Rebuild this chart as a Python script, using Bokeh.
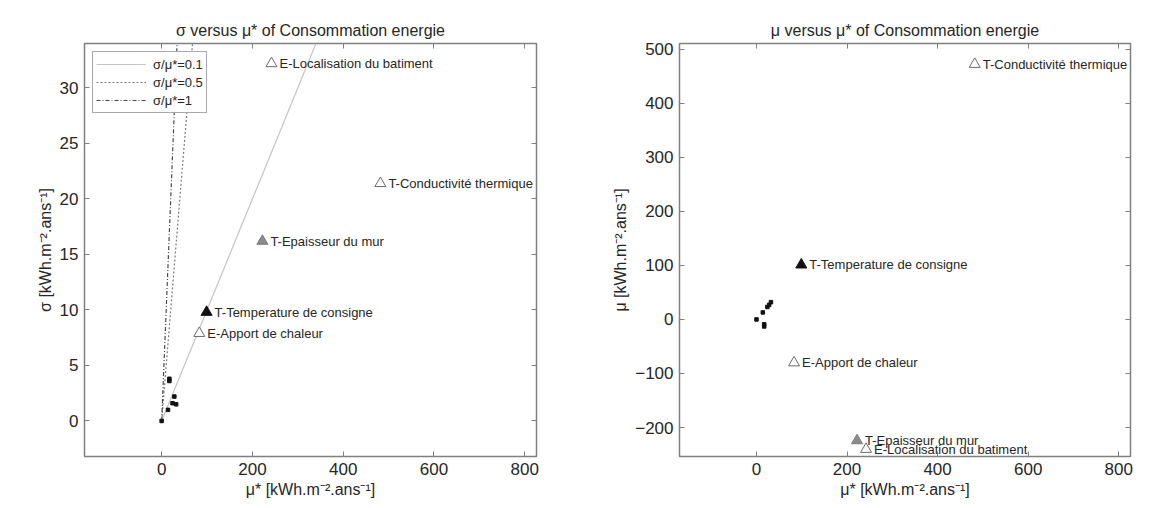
from bokeh.plotting import figure
from bokeh.models import (Range1d, LinearAxis, FixedTicker, Legend, LegendItem,
                          ColumnDataSource, CustomJSTickFormatter)
from bokeh.layouts import row
from bokeh.embed import file_html
from bokeh.resources import INLINE
from bokeh.core.properties import value

# ---------------- data ----------------
main_names = ["E-Localisation du batiment", "T-Conductivité thermique",
              "T-Epaisseur du mur", "T-Temperature de consigne", "E-Apport de chaleur"]
main_mustar = [242, 482, 222, 99, 83]
main_sigma = [32.2, 21.4, 16.2, 9.8, 7.9]
main_mu = [-240, 472, -224, 101, -80]

small_mustar = [0, 14, 17, 17, 24, 28, 32]
small_sigma = [0.0, 1.0, 3.8, 3.6, 1.6, 2.2, 1.5]
small_mu = [0, 13, -9, -13, 23, 27, 32]

ratios = [0.1, 0.5, 1]
ratio_labels = ["σ/μ*=0.1", "σ/μ*=0.5", "σ/μ*=1"]

x_ticks = [0, 200, 400, 600, 800]
sigma_ticks = [0, 5, 10, 15, 20, 25, 30]
mu_ticks = [-200, -100, 0, 100, 200, 300, 400, 500]

titles = ["σ versus μ* of Consommation energie", "μ versus μ* of Consommation energie"]
x_label = "μ* [kWh.m⁻².ans⁻¹]"
y_labels = ["σ [kWh.m⁻².ans⁻¹]", "μ [kWh.m⁻².ans⁻¹]"]

# ---------------- styles ----------------
FONT = "Liberation Sans"
FRAME = "#808080"
TXT = "#262626"
fill_map = {"T-Temperature de consigne": "#111111", "T-Epaisseur du mur": "#8c8c8c"}
edge_map = {"T-Temperature de consigne": "#111111", "T-Epaisseur du mur": "#7a7a7a"}
fills = [fill_map.get(n, "white") for n in main_names]
edges = [edge_map.get(n, "#6a6a6a") for n in main_names]
ratio_colors = ["#c4c4c4", "#7a7a7a", "#4a4a4a"]
ratio_dash = ["solid", "2 2", "4 2 1 2"]


def make_fig(title, ylab, yr, yticks, width, left, right):
    p = figure(width=width, height=500, output_backend="svg", toolbar_location=None,
               x_range=Range1d(-170, 826), y_range=yr,
               min_border_left=left, min_border_right=right,
               min_border_top=43, min_border_bottom=44)
    p.title.text = title
    p.title.align = "center"
    p.title.text_font = FONT
    p.title.text_font_size = "16px"
    p.title.text_font_style = "normal"
    p.title.text_color = TXT
    p.title.standoff = 10
    p.grid.visible = False
    p.outline_line_color = FRAME
    p.outline_line_width = 1.5
    p.background_fill_color = "white"
    p.border_fill_color = "white"

    for ax, ticks in ((p.xaxis[0], x_ticks), (p.yaxis[0], yticks)):
        ax.ticker = FixedTicker(ticks=ticks)
        ax.major_tick_in = 5
        ax.major_tick_out = 0
        ax.minor_tick_line_color = None
        ax.axis_line_color = FRAME
        ax.major_tick_line_color = FRAME
        ax.major_label_text_font = FONT
        ax.major_label_text_font_size = "17px"
        ax.major_label_text_color = TXT
        ax.axis_label_text_font = FONT
        ax.axis_label_text_font_size = "16px"
        ax.axis_label_text_font_style = "normal"
        ax.axis_label_text_color = TXT
        ax.major_label_standoff = 6
        ax.axis_label_standoff = 3
    p.xaxis[0].axis_label = x_label
    p.yaxis[0].axis_label = ylab

    blank = CustomJSTickFormatter(code="return ''")
    for side, ticks in (("above", x_ticks), ("right", yticks)):
        ax = LinearAxis(ticker=FixedTicker(ticks=ticks), formatter=blank,
                        major_tick_in=5, major_tick_out=0, minor_tick_line_color=None,
                        axis_line_color=FRAME, major_tick_line_color=FRAME,
                        major_label_standoff=0)
        p.add_layout(ax, side)
    return p


# ---------------- left: sigma vs mu* ----------------
p1 = make_fig(titles[0], y_labels[0], Range1d(-3.2, 34.0), sigma_ticks, 576, 84, 40)
xe = p1.x_range.end
items = []
for r, lab, c, d in zip(ratios, ratio_labels, ratio_colors, ratio_dash):
    rl = p1.line([0, xe], [0, r * xe], line_color=c, line_dash=d, line_width=1.2)
    items.append(LegendItem(label=lab, renderers=[rl]))

src1 = ColumnDataSource(dict(x=main_mustar, y=main_sigma, name=main_names,
                             fill=fills, edge=edges))
p1.scatter("x", "y", source=src1, marker="triangle", size=11,
           fill_color="fill", line_color="edge", line_width=1)
p1.text("x", "y", text="name", source=src1, x_offset=8, text_baseline="middle",
        text_font=value(FONT), text_font_size="13px", text_color=TXT)
p1.scatter(small_mustar, small_sigma, marker="square", size=3.5, color="#111111")

leg = Legend(items=items, location="top_left", margin=8, padding=3, spacing=0,
             glyph_width=50, glyph_height=18, label_height=18, label_standoff=7,
             label_text_font=FONT, label_text_font_size="13px", label_text_color=TXT,
             border_line_color="#555555", border_line_width=1.2,
             background_fill_color="white")
p1.add_layout(leg, "center")

# ---------------- right: mu vs mu* ----------------
p2 = make_fig(titles[1], y_labels[1], Range1d(-253.5, 510.3), mu_ticks, 574, 103, 20)
src2 = ColumnDataSource(dict(x=main_mustar, y=main_mu, name=main_names,
                             fill=fills, edge=edges))
p2.scatter("x", "y", source=src2, marker="triangle", size=11,
           fill_color="fill", line_color="edge", line_width=1)
p2.text("x", "y", text="name", source=src2, x_offset=8, text_baseline="middle",
        text_font=value(FONT), text_font_size="13px", text_color=TXT)
p2.scatter(small_mustar, small_mu, marker="square", size=3.5, color="#111111")

layout = row(p1, p2)
open("out.html", "w").write(file_html(layout, INLINE))
